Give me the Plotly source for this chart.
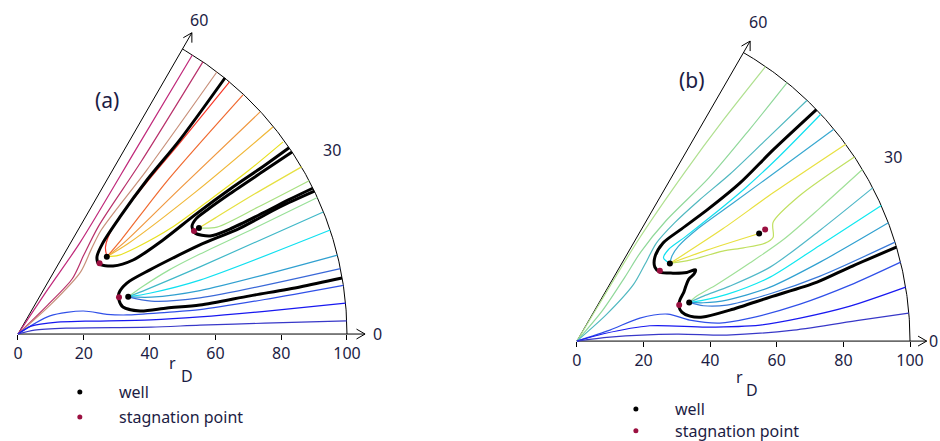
import numpy as np
import plotly.graph_objects as go

# ---------------- data (r_D units, cartesian) ----------------
tick_vals = [0, 20, 40, 60, 80, 100]
tick_text = ["0", "20", "40", "60", "80", "100"]
angle_labels = ["0", "30", "60"]
legend_labels = ["well", "stagnation point"]

# panel (a)
a_c1_x = [0, 9.0, 18.8, 35.9, 53.0]
a_c1_y = [0, 13.5, 27.7, 56.2, 84.8]
a_c2_x = [0, 9.0, 16.5, 20.0, 24.5, 37.5, 56.2]
a_c2_y = [0, 8.8, 16.8, 24.0, 32.8, 52.5, 82.7]
a_tan_x = [0, 10.0, 19.0, 22.3, 25.3, 39.2, 60.5]
a_tan_y = [0, 9.0, 18.8, 25.8, 31.6, 49.9, 79.7]
a_loop1_x = [62.9, 49.2, 39.2, 31.0, 25.8, 24.0, 24.6, 28.9, 35.0, 44.1, 53.8, 64.4, 74.5, 82.4]
a_loop1_y = [77.8, 59.0, 46.8, 35.6, 27.7, 23.4, 21.3, 20.7, 22.5, 28.6, 36.2, 44.0, 50.9, 56.6]
a_red_x = [27.0, 26.6, 28.9, 38.0, 49.2, 64.3]
a_red_y = [23.5, 26.5, 32.5, 44.7, 58.1, 76.6]
a_ored_x = [27.0, 31.5, 45.3, 68.4]
a_ored_y = [23.5, 28.8, 46.5, 72.7]
a_orange_x = [27.0, 32.5, 49.2, 73.6]
a_orange_y = [23.5, 28.0, 44.2, 67.5]
a_lorange_x = [27.0, 33.5, 54.4, 77.5]
a_lorange_y = [23.5, 27.5, 43.5, 62.9]
a_yellow_x = [27.0, 30.5, 36.0, 47.0, 59.3, 70.0, 80.6]
a_yellow_y = [23.5, 23.9, 26.3, 32.5, 41.5, 49.6, 58.4]
a_loop3_x = [83.3, 74.2, 64.4, 57.5, 54.1, 52.9, 53.8, 58.4, 64.4, 74.5, 82.7, 89.6]
a_loop3_y = [55.3, 49.2, 42.6, 37.7, 35.0, 32.8, 30.7, 29.8, 31.9, 36.8, 41.0, 44.3]
a_y3_x = [55.0, 60.0, 72.0, 86.2]
a_y3_y = [32.2, 35.3, 42.6, 50.8]
a_g3_x = [55.0, 60.5, 73.0, 88.5]
a_g3_y = [32.2, 32.5, 38.6, 46.6]
a_loop2_x = [90.1, 79.6, 67.5, 55.3, 47.1, 40.1, 33.1, 30.7, 30.7, 31.9, 37.1, 45.3, 55.3, 70.5, 85.7, 98.5]
a_loop2_y = [43.4, 38.6, 32.2, 27.1, 23.1, 19.5, 15.5, 12.5, 10.3, 8.2, 7.0, 7.9, 8.8, 11.6, 14.3, 17.0]
a_green_x = [33.5, 38.0, 46.0, 55.3, 72.0, 91.0]
a_green_y = [11.3, 14.5, 19.5, 24.3, 32.2, 41.5]
a_teal_x = [33.5, 39.0, 55.3, 92.8]
a_teal_y = [11.3, 13.5, 20.4, 37.1]
a_cyan_x = [33.5, 40.0, 55.3, 94.9]
a_cyan_y = [11.3, 12.4, 16.4, 31.6]
a_steel_x = [33.5, 40.5, 55.3, 97.1]
a_steel_y = [11.3, 11.2, 13.2, 24.0]
a_bluem_x = [33.5, 40.5, 55.3, 98.0]
a_bluem_y = [11.3, 10.0, 11.0, 19.9]
a_b1_x = [0, 9.7, 19.8, 27.0, 33.1, 45.3, 55.3, 75.0, 98.9]
a_b1_y = [0, 5.5, 7.0, 6.0, 5.8, 6.6, 7.4, 10.5, 14.8]
a_b2_x = [0, 4.0, 12.0, 20.4, 40.4, 55.3, 75.0, 99.6]
a_b2_y = [0, 2.4, 3.6, 3.9, 4.3, 5.2, 6.9, 9.4]
a_b3_x = [0, 5.0, 15.2, 40.4, 55.3, 75.0, 99.9]
a_b3_y = [0, 1.2, 1.8, 2.1, 2.7, 3.3, 4.0]
a_well_x = [27.0, 33.5, 55.0]
a_well_y = [23.5, 11.3, 32.2]
a_stag_x = [24.8, 30.7, 53.5]
a_stag_y = [21.5, 11.2, 31.3]

# panel (b)
b_g1_x = [0, 6.2, 18.7, 32.3, 44.2, 56.6]
b_g1_y = [0, 10.3, 30.8, 50.6, 66.7, 82.4]
b_g2_x = [0, 7.7, 14.4, 19.2, 26.8, 39.6, 51.8, 63.1]
b_g2_y = [0, 9.2, 19.2, 26.8, 36.2, 49.0, 63.5, 77.6]
b_t1_x = [0, 8.9, 17.0, 20.5, 23.9, 29.3, 36.7, 45.9, 56.1, 69.1]
b_t1_y = [0, 8.0, 17.0, 23.2, 29.5, 35.5, 42.3, 50.1, 59.8, 72.3]
b_loop_x = [71.9, 58.9, 48.9, 39.0, 30.9, 25.8, 23.4, 23.4, 24.9, 28.8, 33.0, 35.6, 35.2, 33.6,
            32.7, 32.1, 30.9, 30.6, 31.5, 33.9, 37.8, 45.9, 58.0, 72.1, 82.0, 95.9]
b_loop_y = [69.5, 57.4, 47.4, 39.3, 33.3, 29.4, 25.2, 22.2, 20.7, 20.4, 20.6, 21.4, 20.2, 18.6,
            16.5, 14.7, 12.3, 10.5, 8.7, 7.5, 7.2, 9.3, 13.2, 17.7, 22.2, 28.2]
b_cyan1_x = [27.9, 26.0, 27.5, 32.4, 40.5, 50.5, 60.5, 73.2]
b_cyan1_y = [23.3, 25.0, 27.5, 31.2, 37.6, 45.9, 55.2, 68.1]
b_tb1_x = [27.9, 28.5, 30.5, 36.0, 47.0, 62.0, 77.1]
b_tb1_y = [23.3, 25.5, 28.5, 33.5, 41.5, 52.5, 63.6]
b_ya_x = [27.9, 43.8, 58.9, 80.7]
b_ya_y = [23.3, 33.7, 44.5, 59.1]
b_yb_x = [27.9, 39.0, 54.7]
b_yb_y = [23.3, 27.3, 32.3]
b_yg_x = [83.3, 67.0, 58.9, 58.9, 56.5, 50.0, 43.8, 33.9, 27.9]
b_yg_y = [55.3, 43.8, 35.7, 31.2, 29.4, 28.0, 27.0, 24.3, 23.3]
b_lg2_x = [85.7, 73.0, 62.0, 52.0, 42.0, 36.0, 33.7]
b_lg2_y = [51.5, 40.0, 30.5, 23.5, 17.0, 13.5, 11.6]
b_teal2_x = [88.8, 73.0, 58.0, 45.9, 38.0, 33.7]
b_teal2_y = [46.0, 33.3, 22.2, 16.5, 13.5, 11.6]
b_cyan2_x = [91.4, 73.0, 58.0, 45.0, 38.0, 33.7]
b_cyan2_y = [40.7, 28.8, 19.2, 14.0, 12.3, 11.6]
b_tb2_x = [93.5, 73.0, 58.0, 45.0, 38.0, 33.7]
b_tb2_y = [35.5, 23.7, 16.2, 12.3, 11.5, 11.6]
b_st2_x = [95.5, 73.0, 58.0, 45.0, 38.0, 33.7]
b_st2_y = [29.7, 19.5, 14.2, 10.8, 10.6, 11.6]
b_b1_x = [0, 9.9, 18.9, 27.3, 33.9, 42.9, 52.0, 67.0, 82.0, 97.2]
b_b1_y = [0, 3.3, 6.9, 8.1, 6.3, 5.4, 6.9, 11.1, 16.8, 23.7]
b_b2_x = [0, 8.0, 21.9, 39.0, 55.0, 67.0, 82.0, 98.7]
b_b2_y = [0, 2.2, 4.6, 4.2, 4.8, 6.9, 10.5, 16.2]
b_b3_x = [0, 9.9, 30.0, 45.0, 65.0, 85.0, 99.6]
b_b3_y = [0, 1.2, 2.1, 1.8, 3.3, 6.3, 8.4]
b_well_x = [27.9, 33.7, 54.7]
b_well_y = [23.3, 11.6, 32.3]
b_stag_x = [24.9, 30.7, 56.5]
b_stag_y = [21.1, 10.8, 33.5]

# ---------------- styles ----------------
TXT = "#1c1c44"
FONT = "Noto Sans"
THIN = 1.2
THICK = 3.0
WELL_C = "#000000"
STAG_C = "#9b1040"

a_lines = [
    (a_c1_x, a_c1_y, "#c0287a", THIN), (a_c2_x, a_c2_y, "#b8306a", THIN),
    (a_tan_x, a_tan_y, "#c8907a", THIN),
    (a_red_x, a_red_y, "#f83828", THIN), (a_ored_x, a_ored_y, "#f06a30", THIN),
    (a_orange_x, a_orange_y, "#f09840", THIN), (a_lorange_x, a_lorange_y, "#f0b838", THIN),
    (a_yellow_x, a_yellow_y, "#e8e020", THIN),
    (a_y3_x, a_y3_y, "#e6e040", THIN), (a_g3_x, a_g3_y, "#a8e080", THIN),
    (a_green_x, a_green_y, "#98e098", THIN), (a_teal_x, a_teal_y, "#40b8c8", THIN),
    (a_cyan_x, a_cyan_y, "#10e0f0", THIN), (a_steel_x, a_steel_y, "#30a0d0", THIN),
    (a_bluem_x, a_bluem_y, "#3a68d8", THIN),
    (a_b1_x, a_b1_y, "#3050e8", THIN), (a_b2_x, a_b2_y, "#1818f0", THIN),
    (a_b3_x, a_b3_y, "#3838c8", THIN),
    (a_loop1_x, a_loop1_y, "#000000", THICK), (a_loop3_x, a_loop3_y, "#000000", THICK),
    (a_loop2_x, a_loop2_y, "#000000", THICK),
]
b_lines = [
    (b_g1_x, b_g1_y, "#b0e090", THIN), (b_g2_x, b_g2_y, "#90d89a", THIN),
    (b_t1_x, b_t1_y, "#50b8c0", THIN),
    (b_cyan1_x, b_cyan1_y, "#10e0f0", THIN), (b_tb1_x, b_tb1_y, "#38a8d0", THIN),
    (b_ya_x, b_ya_y, "#e8e040", THIN), (b_yb_x, b_yb_y, "#e8e040", THIN),
    (b_yg_x, b_yg_y, "#c0e060", THIN), (b_lg2_x, b_lg2_y, "#a0e098", THIN),
    (b_teal2_x, b_teal2_y, "#50b8c8", THIN), (b_cyan2_x, b_cyan2_y, "#10e8f0", THIN),
    (b_tb2_x, b_tb2_y, "#30a0d0", THIN), (b_st2_x, b_st2_y, "#3878d8", THIN),
    (b_b1_x, b_b1_y, "#3050e8", THIN), (b_b2_x, b_b2_y, "#1818f0", THIN),
    (b_b3_x, b_b3_y, "#3838c8", THIN),
    (b_loop_x, b_loop_y, "#000000", THICK),
]

fig = go.Figure()


def add_line(x, y, color, width, xa, ya, smooth=True):
    fig.add_trace(go.Scatter(
        x=x, y=y, mode="lines", xaxis=xa, yaxis=ya, hoverinfo="skip", showlegend=False,
        line=dict(color=color, width=width, shape="spline" if smooth else "linear",
                  smoothing=0.8 if smooth else 0)))


def frame(xa, ya, ray_len, base_len):
    th = np.radians(np.linspace(0, 60, 181))
    add_line(list(100 * np.cos(th)), list(100 * np.sin(th)), "#000000", 1, xa, ya, False)
    t60 = np.radians(60)
    add_line([0, ray_len * np.cos(t60)], [0, ray_len * np.sin(t60)], "#000000", 1, xa, ya, False)
    add_line([0, base_len], [0, 0], "#000000", 1, xa, ya, False)
    # open chevron arrow heads
    for tip, ang in (((ray_len * np.cos(t60), ray_len * np.sin(t60)), t60), ((base_len, 0.0), 0.0)):
        hx, hy = [], []
        for s in (1, -1):
            a = ang + np.pi - s * np.radians(30)
            hx += [tip[0] + 3.0 * np.cos(a), tip[0], None]
            hy += [tip[1] + 3.0 * np.sin(a), tip[1], None]
        add_line(hx, hy, "#000000", 1, xa, ya, False)


def panel(lines, wx, wy, sx, sy, xa, ya, ray_len, base_len):
    frame(xa, ya, ray_len, base_len)
    for x, y, c, w in lines:
        add_line(x, y, c, w, xa, ya)
    fig.add_trace(go.Scatter(x=sx, y=sy, mode="markers", xaxis=xa, yaxis=ya, showlegend=False,
                             hoverinfo="skip", marker=dict(color=STAG_C, size=6)))
    fig.add_trace(go.Scatter(x=wx, y=wy, mode="markers", xaxis=xa, yaxis=ya, showlegend=False,
                             hoverinfo="skip", marker=dict(color=WELL_C, size=6)))


panel(a_lines, a_well_x, a_well_y, a_stag_x, a_stag_y, "x", "y", 105.7, 105.5)
panel(b_lines, b_well_x, b_well_y, b_stag_x, b_stag_y, "x2", "y2", 104.0, 105.0)

annots = []


def txt(x, y, s, xa, ya, size=16, anchor="center"):
    annots.append(dict(x=x, y=y, xref=xa, yref=ya, text=s, showarrow=False, xanchor=anchor,
                       yanchor="middle", font=dict(family=FONT, size=size, color=TXT)))


# panel (a) texts & legend
txt(27.1, 71.1, "(a)", "x", "y", 21)
txt(55.0, 95.5, angle_labels[2], "x", "y")
txt(95.5, 55.9, angle_labels[1], "x", "y")
txt(109.4, 0, angle_labels[0], "x", "y")
txt(47.1, -8.8, "r", "x", "y")
txt(51.4, -12.8, "D", "x", "y")
txt(30.1, -17.6, legend_labels[0], "x", "y", 16, "left")
txt(30.1, -25.2, legend_labels[1], "x", "y", 16, "left")
fig.add_trace(go.Scatter(x=[18.8], y=[-17.6], mode="markers", xaxis="x", yaxis="y", showlegend=False,
                         marker=dict(color=WELL_C, size=5), hoverinfo="skip"))
fig.add_trace(go.Scatter(x=[18.8], y=[-25.2], mode="markers", xaxis="x", yaxis="y", showlegend=False,
                         marker=dict(color=STAG_C, size=5), hoverinfo="skip"))

# panel (b) texts & legend
txt(34.5, 78.4, "(b)", "x2", "y2", 21)
txt(54.4, 95.8, angle_labels[2], "x2", "y2")
txt(94.9, 55.3, angle_labels[1], "x2", "y2")
txt(108.9, 0, angle_labels[0], "x2", "y2", 16, "right")
txt(48.9, -10.8, "r", "x2", "y2")
txt(52.6, -14.7, "D", "x2", "y2")
txt(28.8, -20.4, legend_labels[0], "x2", "y2", 16, "left")
txt(28.8, -26.9, legend_labels[1], "x2", "y2", 16, "left")
fig.add_trace(go.Scatter(x=[17.7], y=[-20.4], mode="markers", xaxis="x2", yaxis="y2", showlegend=False,
                         marker=dict(color=WELL_C, size=5), hoverinfo="skip"))
fig.add_trace(go.Scatter(x=[17.7], y=[-26.9], mode="markers", xaxis="x2", yaxis="y2", showlegend=False,
                         marker=dict(color=STAG_C, size=5), hoverinfo="skip"))

xa_common = dict(tickvals=tick_vals, ticktext=tick_text, ticks="outside", ticklen=5, tickcolor="#000000",
                 showgrid=False, zeroline=False, showline=False, anchor="free",
                 tickfont=dict(family=FONT, size=16, color=TXT))
ya_common = dict(visible=False, showgrid=False, zeroline=False)

fig.update_layout(
    width=940, height=441, margin=dict(l=0, r=0, t=0, b=0),
    paper_bgcolor="white", plot_bgcolor="rgba(0,0,0,0)", showlegend=False,
    xaxis=dict(domain=[0, 0.5], range=[-5.47, 137.4], position=107 / 441, **xa_common),
    yaxis=dict(domain=[0, 1], range=[-32.5, 101.5], **ya_common),
    xaxis2=dict(domain=[0.5, 1], range=[-32.1, 109.0], position=100 / 441, **xa_common),
    yaxis2=dict(domain=[0, 1], range=[-30.0, 102.4], anchor="x2", **ya_common),
    annotations=annots,
)
for tr in fig.data:
    tr.cliponaxis = False

fig.write_html("out.html", config={"displayModeBar": False},
               post_script="document.body.style.margin='0';document.body.style.overflow='hidden';")
